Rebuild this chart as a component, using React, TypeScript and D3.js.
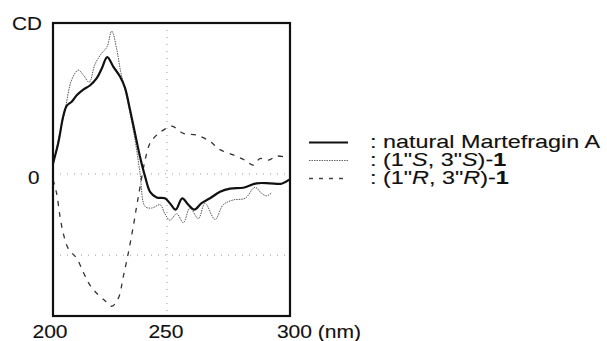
import * as d3 from "d3";

// CD spectra, wavelength (nm) vs ellipticity (arbitrary units, gridline spacing = 1)
const naturalNm = [200, 202.3, 204.5, 206, 208.2, 210.4, 213.3, 216.2, 219.2, 221.4, 223.8, 226.5, 229.4, 231.6, 233.8, 236, 238.2, 240.4, 242.6, 245.5, 249.1, 251.3, 253.8, 256.7, 259.4, 262, 265.2, 268.9, 273.3, 277.7, 283.5, 289.4, 295.2, 300.3, 303.7];
const naturalCd = [0.13, 0.38, 0.71, 0.84, 0.89, 0.97, 1.04, 1.09, 1.18, 1.3, 1.44, 1.32, 1.2, 1.06, 0.79, 0.5, 0.21, -0.03, -0.22, -0.29, -0.3, -0.36, -0.44, -0.3, -0.38, -0.44, -0.36, -0.3, -0.22, -0.18, -0.17, -0.115, -0.115, -0.12, -0.07];

const ssNm = [200, 202.3, 205.3, 208.2, 211.1, 213.3, 215.9, 218.4, 221.4, 223.6, 225.8, 228, 229.7, 231.6, 233.8, 236, 238.2, 240.4, 243.3, 247, 249.1, 251.3, 254.3, 257.2, 260.1, 263.8, 266.7, 271.1, 274.7, 279.1, 284.3, 288.6, 291.6, 293.8, 296];
const ssCd = [0.09, 0.42, 0.79, 1.16, 1.28, 1.22, 1.13, 1.35, 1.49, 1.56, 1.76, 1.53, 1.26, 1.04, 0.75, 0.42, 0.01, -0.4, -0.42, -0.38, -0.49, -0.57, -0.49, -0.6, -0.42, -0.55, -0.36, -0.56, -0.38, -0.32, -0.3, -0.165, -0.24, -0.27, -0.23];

const rrNm = [200, 201.6, 203.1, 204.5, 206.7, 210.4, 213.3, 216.2, 219.9, 223.6, 225.8, 228.7, 230.8, 233, 235.2, 236.7, 238.2, 240.4, 242.6, 245.5, 248.4, 252.1, 257.2, 263.1, 268.9, 273.3, 279.1, 284.2, 287.9, 290.8, 294.5, 298.2, 301.8];
const rrCd = [-0.07, -0.24, -0.53, -0.73, -0.92, -1.04, -1.21, -1.37, -1.49, -1.58, -1.63, -1.53, -1.27, -0.98, -0.65, -0.4, -0.16, 0.17, 0.38, 0.48, 0.54, 0.59, 0.5, 0.48, 0.4, 0.3, 0.235, 0.17, 0.11, 0.19, 0.17, 0.22, 0.21];

const xTicks = [200, 250, 300];
const yGrid = [0, -1];
const legendLabels = ["natural Martefragin A", "(1\"S, 3\"S)-1", "(1\"R, 3\"R)-1"];

const W = 607;
const H = 341;
const FONT = "'Liberation Sans', Arial, Helvetica, sans-serif";

// scan text is wider than the font, so stretch it horizontally
function Label({ x, y, sx, anchor = "start", children }: any) {
  return (
    <text
      transform={`translate(${x},${y}) scale(${sx},1)`}
      textAnchor={anchor}
      fontFamily={FONT}
      fontSize={18}
      fill="#111"
      stroke="#111"
      strokeWidth={0.12}
    >
      {children}
    </text>
  );
}

export default function App() {
  const x = d3.scaleLinear().domain([200, 304]).range([53, 290]);
  const y = d3.scaleLinear().domain([-1.75, 1.86]).range([316, 23]);

  const line = (nm: number[], cd: number[]) =>
    d3
      .line<number>()
      .x((_, i) => x(nm[i]))
      .y((v) => y(v))
      .curve(d3.curveCatmullRom.alpha(0.5))(cd) ?? "";

  const [x0, x1] = x.range();
  const [yb, yt] = y.range();

  const legend = [
    { stroke: "#111", width: 2, dash: undefined as string | undefined },
    { stroke: "#666", width: 1, dash: "1.5,1" },
    { stroke: "#444", width: 1.3, dash: "4,6" },
  ];
  const legendY = d3.scalePoint<number>().domain([0, 1, 2]).range([148, 184]);

  return (
    <svg
      width={W}
      height={H}
      style={{ position: "fixed", left: 0, top: 0, display: "block", background: "#fff" }}
    >
      {/* grid */}
      {yGrid.map((g) => (
        <line key={g} x1={x0} x2={x1} y1={y(g)} y2={y(g)} stroke="#999" strokeWidth={1} strokeDasharray="1,6" />
      ))}
      <line x1={x(250)} x2={x(250)} y1={yt} y2={yb} stroke="#999" strokeWidth={1} strokeDasharray="1,6" />

      {/* curves */}
      <path d={line(rrNm, rrCd)} fill="none" stroke="#333" strokeWidth={1.3} strokeDasharray="5,6" />
      <path d={line(ssNm, ssCd)} fill="none" stroke="#555" strokeWidth={1} strokeDasharray="1.5,1" />
      <path d={line(naturalNm, naturalCd)} fill="none" stroke="#111" strokeWidth={2.2} strokeLinejoin="round" />

      {/* frame */}
      <rect x={x0} y={yt} width={x1 - x0} height={yb - yt} fill="none" stroke="#111" strokeWidth={2.2} />

      {/* axis labels */}
      <Label x={12} y={30} sx={1.15}>CD</Label>
      <Label x={28} y={184} sx={1.15}>0</Label>
      {xTicks.map((t, i) =>
        i < xTicks.length - 1 ? (
          <Label key={t} x={x(t) - (i === 0 ? 3 : 1)} y={338} sx={1.17} anchor="middle">{t}</Label>
        ) : (
          <Label key={t} x={x(t) - 4} y={338} sx={1.17}>{`${t} (nm)`}</Label>
        )
      )}

      {/* legend */}
      {legend.map((l, i) => (
        <line
          key={i}
          x1={309}
          x2={348}
          y1={legendY(i)! - 5.5}
          y2={legendY(i)! - 5.5}
          stroke={l.stroke}
          strokeWidth={l.width}
          strokeDasharray={l.dash}
        />
      ))}
      <Label x={370} y={legendY(0)} sx={1.3}>: {legendLabels[0]}</Label>
      <Label x={370} y={legendY(1)} sx={1.3}>
        : (1"<tspan fontStyle="italic">S</tspan>, 3"<tspan fontStyle="italic">S</tspan>)-<tspan fontWeight="bold">1</tspan>
      </Label>
      <Label x={370} y={legendY(2)} sx={1.3}>
        : (1"<tspan fontStyle="italic">R</tspan>, 3"<tspan fontStyle="italic">R</tspan>)-<tspan fontWeight="bold">1</tspan>
      </Label>
    </svg>
  );
}
